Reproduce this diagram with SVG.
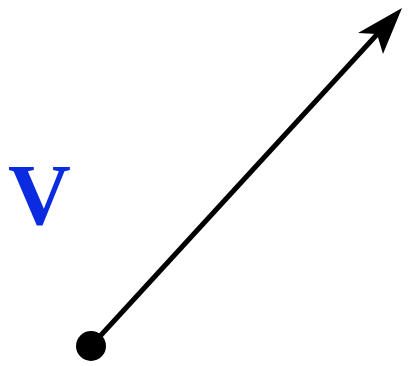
<svg xmlns="http://www.w3.org/2000/svg" width="408" height="366" viewBox="0 0 408 366">
<style>
.lbl{font-family:"Liberation Serif","Times New Roman",serif;font-weight:bold;fill:#0b2be0}
.vec{stroke:#000;stroke-width:5;fill:none}
</style>
<rect width="408" height="366" fill="#fff"/>
<g id="connectors">
<line class="vec" x1="91" y1="346" x2="393" y2="17"/>
<path d="M402,8 L383,54 L377,34 L358,33 Z" fill="#000"/>
</g>
<g id="origin"><circle cx="91" cy="346" r="15" fill="#000"/></g>
<g id="label"><text class="lbl" x="8" y="224" font-size="87">V</text></g>
</svg>
